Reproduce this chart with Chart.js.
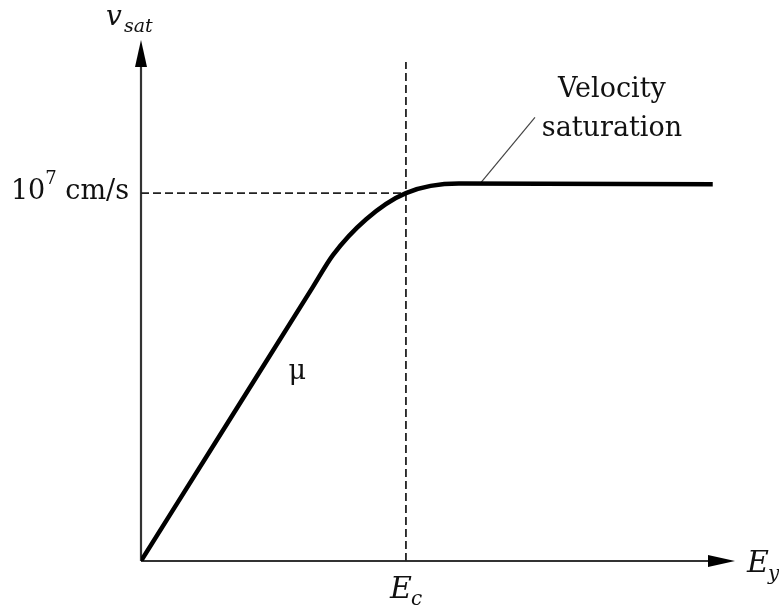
<!DOCTYPE html>
<html>
<head>
<meta charset="utf-8">
<script src="https://cdn.jsdelivr.net/npm/chart.js@4.4.1/dist/chart.umd.min.js"></script>
<style>
  html, body { margin: 0; padding: 0; background: #fff; }
</style>
</head>
<body>
<canvas id="grafico" width="779" height="607"></canvas>
<script>
// campo eletrico em unidades de Ec, velocidade em unidades de v_sat
var campo      = [0, 0.325, 0.649, 0.725, 0.850, 1.0, 1.200, 2.158];
var velocidade = [0, 0.373, 0.745, 0.832, 0.929, 1.0, 1.026, 1.024];

var campoCritico = 1;      // Ec
var velocidadeSat = 1;     // 10^7 cm/s
var topoTracejado = 1.356; // ate onde vai a linha vertical de Ec

// linha de chamada do texto "Velocity saturation"
var chamadaX = [1.279, 1.487];
var chamadaY = [1.025, 1.206];

var textoChamada = ['Velocity', 'saturation'];
var textoVsat = ['10', '7', ' cm/s'];

var xMax = 2.242, yMax = 1.416;

function pontos(xs, ys) {
	return xs.map(function(x, i) { return { x: x, y: ys[i] }; });
}

var serif = '"DejaVu Serif", "Liberation Serif", serif';

var eixos = {
	id: 'eixos',
	beforeDatasetsDraw: function(chart) {
		var ctx = chart.ctx;
		var xs = chart.scales.x, ys = chart.scales.y;
		var x0 = xs.getPixelForValue(0), y0 = ys.getPixelForValue(0);
		var xFim = xs.getPixelForValue(xMax), yFim = ys.getPixelForValue(yMax);
		ctx.save();
		ctx.strokeStyle = '#333';
		ctx.fillStyle = '#000';
		ctx.lineWidth = 2.2;
		ctx.beginPath();
		ctx.moveTo(x0, y0);
		ctx.lineTo(x0, yFim + 25);
		ctx.moveTo(x0, y0);
		ctx.lineTo(xFim - 25, y0);
		ctx.stroke();
		// setas
		ctx.beginPath();
		ctx.moveTo(x0, yFim);
		ctx.lineTo(x0 - 6, yFim + 27);
		ctx.lineTo(x0 + 6, yFim + 27);
		ctx.closePath();
		ctx.fill();
		ctx.beginPath();
		ctx.moveTo(xFim, y0);
		ctx.lineTo(xFim - 27, y0 - 6);
		ctx.lineTo(xFim - 27, y0 + 6);
		ctx.closePath();
		ctx.fill();
		ctx.restore();
	},
	afterDraw: function(chart) {
		var ctx = chart.ctx;
		var xs = chart.scales.x, ys = chart.scales.y;
		var x0 = xs.getPixelForValue(0), y0 = ys.getPixelForValue(0);
		var xFim = xs.getPixelForValue(xMax), yFim = ys.getPixelForValue(yMax);
		ctx.save();
		ctx.fillStyle = '#111';
		ctx.textBaseline = 'alphabetic';

		// texto da saturacao
		var cx = xs.getPixelForValue(chamadaX[1]) + 77;
		var cy = ys.getPixelForValue(chamadaY[1]);
		ctx.font = '27px ' + serif;
		ctx.textAlign = 'center';
		ctx.fillText(textoChamada[0], cx, cy - 20);
		ctx.fillText(textoChamada[1], cx, cy + 19);

		// mu ao lado da reta
		ctx.fillText('\u03bc', xs.getPixelForValue(0.59), ys.getPixelForValue(0.495));

		// 10^7 cm/s
		ctx.textAlign = 'left';
		var yv = ys.getPixelForValue(velocidadeSat) + 6;
		ctx.font = '27px ' + serif;
		var w1 = ctx.measureText(textoVsat[0]).width;
		var w3 = ctx.measureText(textoVsat[2]).width;
		ctx.font = '18px ' + serif;
		var w2 = ctx.measureText(textoVsat[1]).width;
		var xi = x0 - 12 - w1 - w2 - w3;
		ctx.font = '27px ' + serif;
		ctx.fillText(textoVsat[0], xi, yv);
		ctx.fillText(textoVsat[2], xi + w1 + w2, yv);
		ctx.font = '18px ' + serif;
		ctx.fillText(textoVsat[1], xi + w1, yv - 15);

		// Ec
		var xe = xs.getPixelForValue(campoCritico);
		ctx.font = 'italic 30px ' + serif;
		ctx.fillText('E', xe - 16, y0 + 37);
		ctx.font = 'italic 20px ' + serif;
		ctx.fillText('c', xe + 5, y0 + 44);

		// Ey
		ctx.font = 'italic 30px ' + serif;
		ctx.fillText('E', xFim + 12, y0 + 11);
		ctx.font = 'italic 20px ' + serif;
		ctx.fillText('y', xFim + 33, y0 + 19);

		// v_sat
		ctx.font = 'italic 28px ' + serif;
		ctx.fillText('v', x0 - 35, yFim - 15);
		ctx.font = 'italic 19px ' + serif;
		ctx.fillText('sat', x0 - 17, yFim - 8);
		ctx.restore();
	}
};

var chart = new Chart(document.getElementById('grafico'), {
	type: 'line',
	data: {
		datasets: [ {
			label: 'v(E)',
			data: pontos(campo, velocidade),
			borderColor: '#000',
			borderWidth: 4.5,
			pointRadius: 0,
			cubicInterpolationMode: 'monotone'
		}, {
			label: 'Ec',
			data: pontos([campoCritico, campoCritico], [0, topoTracejado]),
			borderColor: '#222',
			borderWidth: 1.8,
			borderDash: [8, 4],
			pointRadius: 0
		}, {
			label: 'vsat',
			data: pontos([0, campoCritico], [velocidadeSat, velocidadeSat]),
			borderColor: '#222',
			borderWidth: 1.8,
			borderDash: [8, 4],
			pointRadius: 0
		}, {
			label: 'chamada',
			data: pontos(chamadaX, chamadaY),
			borderColor: '#444',
			borderWidth: 1.2,
			pointRadius: 0
		} ]
	},
	options: {
		responsive: false,
		animation: false,
		devicePixelRatio: 1,
		layout: { padding: { left: 141, top: 40, right: 44, bottom: 46 } },
		plugins: { legend: { display: false }, tooltip: { enabled: false } },
		scales: {
			x: { type: 'linear', min: 0, max: xMax, display: false },
			y: { type: 'linear', min: 0, max: yMax, display: false }
		}
	},
	plugins: [ eixos ]
});
</script>
</body>
</html>
